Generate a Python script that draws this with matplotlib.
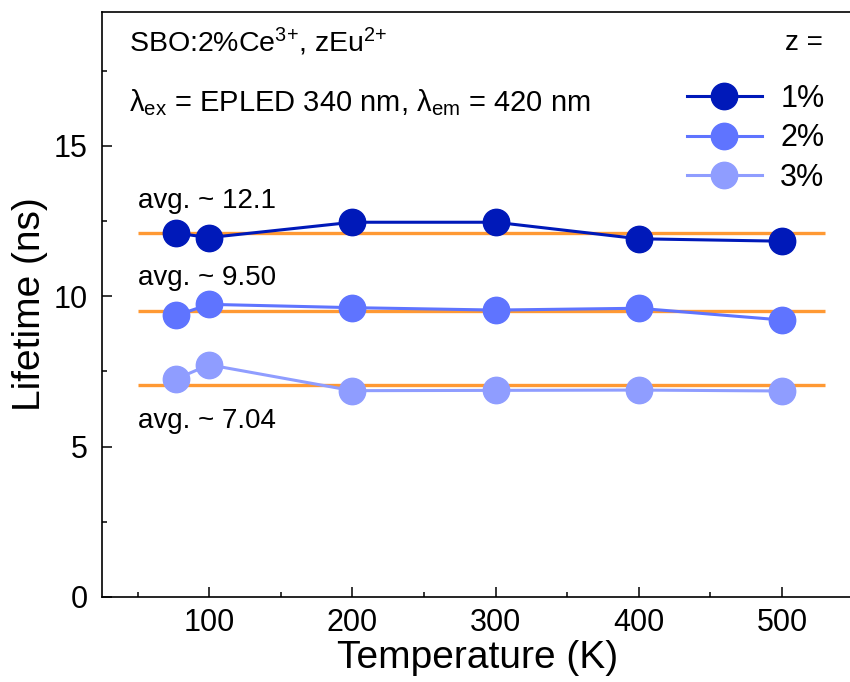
import matplotlib
matplotlib.use('Agg')
import matplotlib.pyplot as plt
from matplotlib.ticker import MultipleLocator

plt.rcParams['font.family'] = ['Liberation Sans', 'DejaVu Sans']
plt.rcParams['mathtext.fontset'] = 'custom'
plt.rcParams['mathtext.rm'] = 'Liberation Sans'
plt.rcParams['mathtext.it'] = 'Liberation Sans:italic'

# lifetimes vs temperature for each Eu2+ content
temperature = [77, 100, 200, 300, 400, 500]
tau_1 = [12.10, 11.95, 12.46, 12.46, 11.91, 11.83]
tau_2 = [9.36, 9.73, 9.62, 9.54, 9.60, 9.21]
tau_3 = [7.25, 7.72, 6.86, 6.87, 6.88, 6.85]
series_labels = ['1%', '2%', '3%']
series_colors = ['#0019b9', '#5f74ff', '#8f9dff']

averages = [12.1, 9.50, 7.04]
avg_labels = ['avg. ~ 12.1', 'avg. ~ 9.50', 'avg. ~ 7.04']
avg_offsets = [0.85, 0.88, -1.43]
avg_span = (50, 530)

fig = plt.figure(figsize=(8.5, 6.82), dpi=100)
ax = fig.add_axes([101.7 / 850, 85 / 682, 751.8 / 850, 585 / 682])

for avg, lab, off in zip(averages, avg_labels, avg_offsets):
    ax.hlines(avg, *avg_span, color='#ff9933', lw=2.4, zorder=1)
    ax.text(avg_span[0], avg + off, lab, fontsize=20, ha='left', va='baseline')

for tau, lab, col in zip([tau_1, tau_2, tau_3], series_labels, series_colors):
    ax.plot(temperature, tau, '-o', color=col, lw=2.2, ms=19, label=lab, zorder=3)

ax.set_xlim(25, 550)
ax.set_ylim(0, 19.45)
ax.xaxis.set_major_locator(MultipleLocator(100))
ax.xaxis.set_minor_locator(MultipleLocator(50))
ax.yaxis.set_major_locator(MultipleLocator(5))
ax.yaxis.set_minor_locator(MultipleLocator(2.5))
ax.tick_params(which='both', direction='in', width=1.1, labelsize=22)
ax.tick_params(which='major', length=7)
ax.tick_params(which='minor', length=3.6)
ax.tick_params(axis='x', pad=8)
ax.tick_params(axis='y', pad=10)
for s in ax.spines.values():
    s.set_linewidth(1.2)

ax.set_xlabel('Temperature (K)', fontsize=28, labelpad=1)
ax.set_ylabel('Lifetime (ns)', fontsize=28, labelpad=4)

ax.text(0.0363, 0.932, r'SBO:2%Ce$^{3{+}}$, zEu$^{2{+}}$', transform=ax.transAxes,
        fontsize=20.5, ha='left', va='baseline')
ax.text(0.0363, 0.8296, r'λ$_{\mathrm{ex}}$ = EPLED 340 nm, λ$_{\mathrm{em}}$ = 420 nm',
        transform=ax.transAxes, fontsize=21, ha='left', va='baseline')
ax.text(823 / 850, 1 - 50 / 682, 'z =', transform=fig.transFigure,
        fontsize=20, ha='right', va='baseline')

ax.legend(loc='upper left', bbox_to_anchor=(0.7785, 0.877), frameon=False,
          fontsize=22, handlelength=2.45, handletextpad=0.6, labelspacing=0.31,
          borderpad=0, borderaxespad=0)

fig.savefig('out.png', dpi=100)
